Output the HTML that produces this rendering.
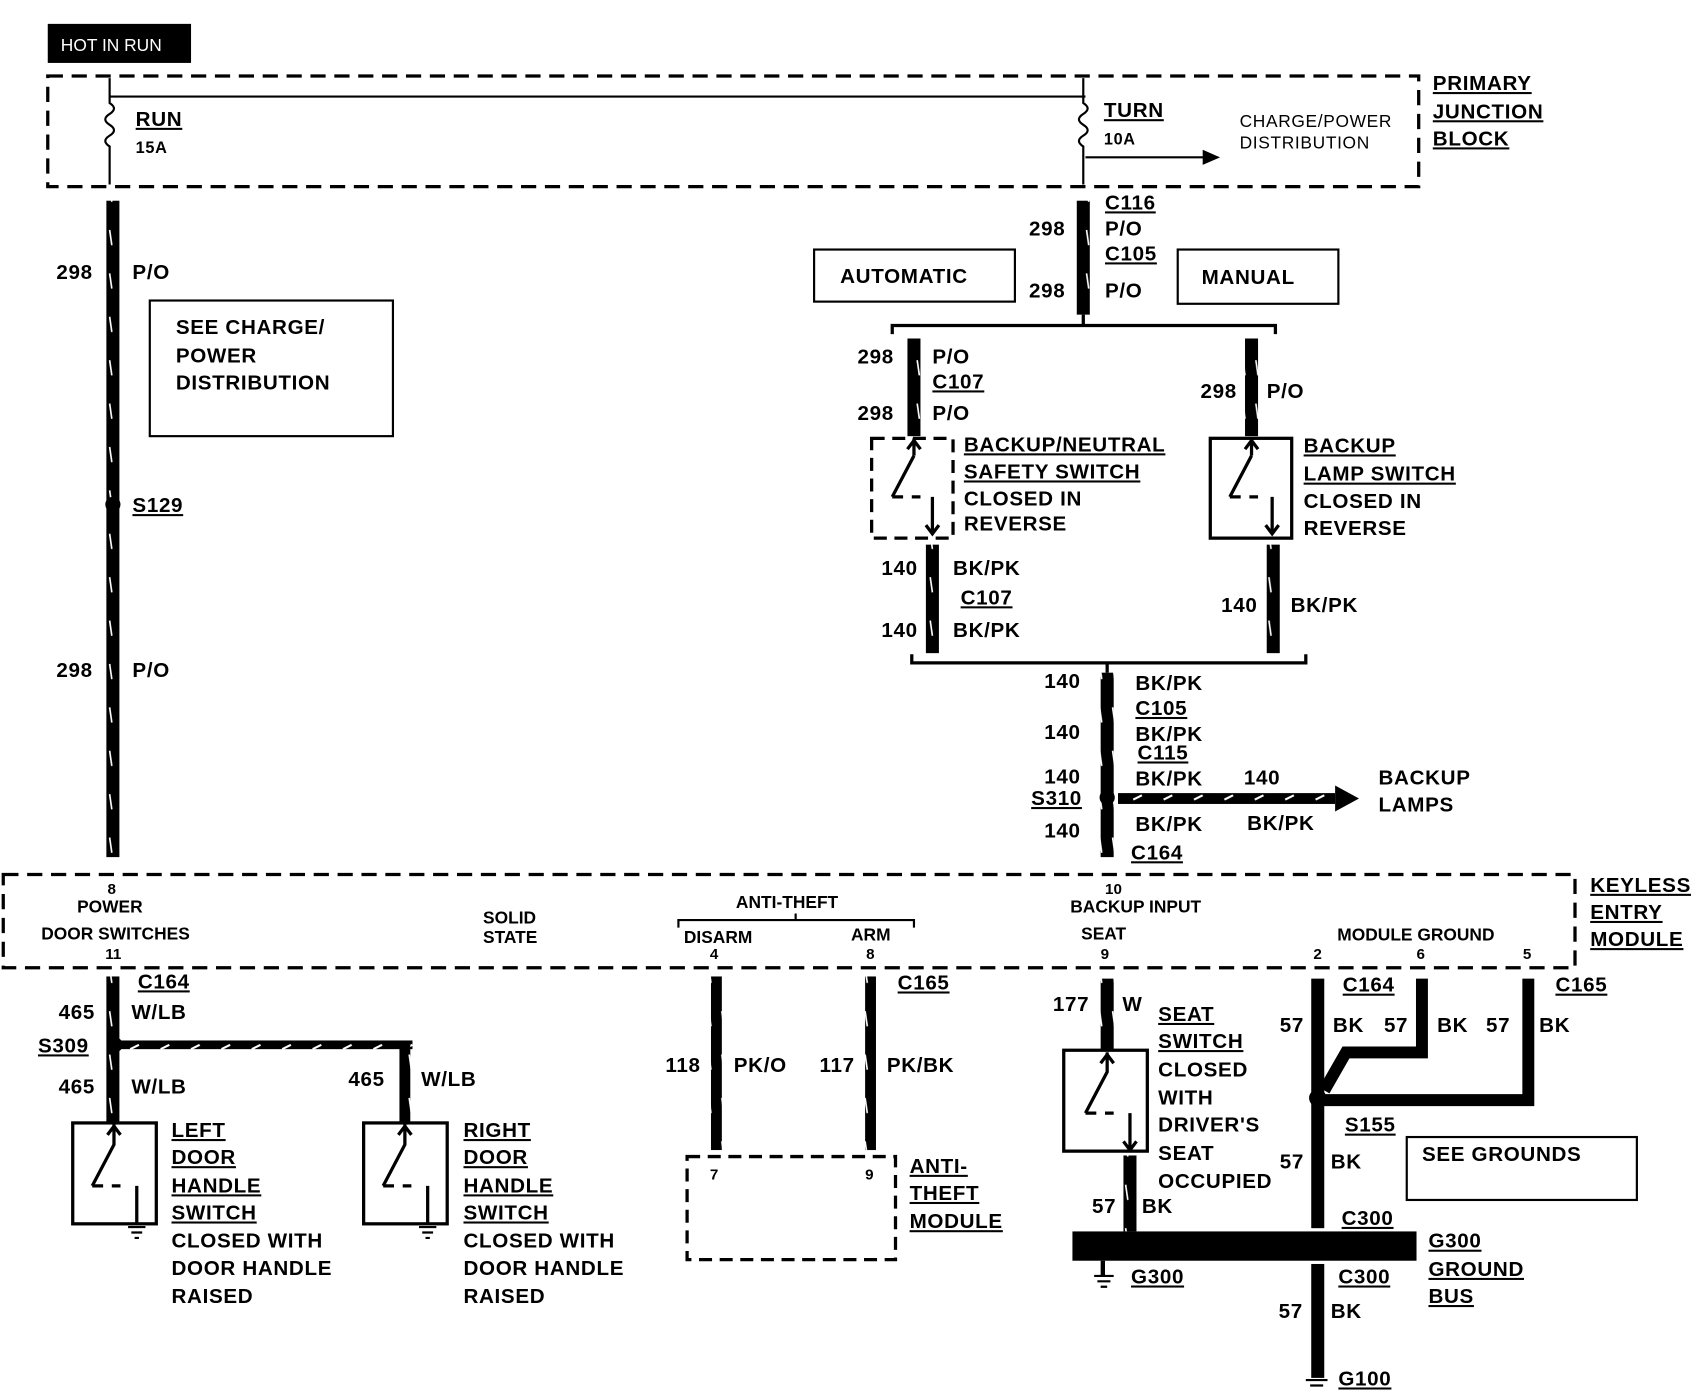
<!DOCTYPE html>
<html><head><meta charset="utf-8"><style>
html,body{margin:0;padding:0;background:#fff}
svg{display:block}
text{font-family:"Liberation Sans",sans-serif;font-weight:bold;fill:#000}
.s{font-size:19px;letter-spacing:0.6px}
.m{font-size:16px;font-weight:normal}
</style></head><body>
<svg width="1702" height="1392" viewBox="0 0 1568 1283" preserveAspectRatio="none" xmlns="http://www.w3.org/2000/svg">
<defs>
<pattern id="wp" width="12" height="40" patternUnits="userSpaceOnUse"><rect width="12" height="40" fill="#000"/><line x1="5" y1="12" x2="7" y2="26" stroke="#fff" stroke-width="1.5"/></pattern>
<pattern id="hp" width="28" height="10" patternUnits="userSpaceOnUse"><rect width="28" height="10" fill="#000"/><line x1="8" y1="7" x2="16" y2="3" stroke="#fff" stroke-width="2"/></pattern>
</defs>
<g fill="none" stroke="#000">
<rect x="44" y="70" width="1263" height="102" stroke-width="3" stroke-dasharray="14,8"/>
<line x1="101" y1="89" x2="1000" y2="89" stroke-width="2"/>
<path d="M101 72 V95 q8 5 0 10 q-8 5 0 10 q8 5 0 10 q-8 5 0 10 V170" stroke-width="2"/>
<path d="M998 72 V95 q8 5 0 10 q-8 5 0 10 q8 5 0 10 q-8 5 0 10 V170" stroke-width="2"/>
<line x1="1000" y1="145" x2="1110" y2="145" stroke-width="2"/>
<rect x="3" y="806" width="1448" height="86" stroke-width="3" stroke-dasharray="14,8"/>
<path d="M625 855 V848 H842 V855 M733 848 V842" stroke-width="2"/>
<rect x="138" y="277" width="224" height="125" stroke-width="2"/>
<rect x="750" y="230" width="185" height="48" stroke-width="2"/>
<rect x="1085" y="230" width="148" height="50" stroke-width="2"/>
<rect x="803" y="404" width="75" height="92" stroke-width="3" stroke-dasharray="12,7"/>
<rect x="1115" y="404" width="75" height="92" stroke-width="3"/>
<rect x="67" y="1035" width="77" height="93" stroke-width="3"/>
<rect x="335" y="1035" width="77" height="93" stroke-width="3"/>
<rect x="980" y="968" width="77" height="93" stroke-width="3"/>
<rect x="633" y="1066" width="192" height="95" stroke-width="3" stroke-dasharray="12,7"/>
<rect x="1296" y="1048" width="212" height="58" stroke-width="2"/>
<path d="M822 308 V300 H1175 V308 M998 300 V290" stroke-width="3"/>
<path d="M840 603 V611 H1203 V603 M1020 611 V620" stroke-width="3"/>
<g stroke-width="3">
<path d="M842 404 V420 M842 420 L822 458 M822 458 h10 m8 0 h8 M859 458 V492 M853 484 l6 8 l6 -8 M836 414 l6 -8 l6 8"/>
<path d="M1153 404 V420 M1153 420 L1133 458 M1133 458 h10 m8 0 h8 M1172 458 V492 M1166 484 l6 8 l6 -8 M1147 414 l6 -8 l6 8"/>
<path d="M105 1036 V1055 L85 1093 M85 1093 h10 m8 0 h8 M126 1093 V1128 M99 1046 l6 -8 l6 8"/>
<path d="M373 1036 V1055 L353 1093 M353 1093 h10 m8 0 h8 M394 1093 V1128 M367 1046 l6 -8 l6 8"/>
<path d="M1020 970 V988 L1000 1026 M1000 1026 h10 m8 0 h8 M1041 1026 V1060 M1035 1052 l6 8 l6 -8 M1014 980 l6 -8 l6 8"/>
</g>
<path d="M118 1131 h16 M121 1136 h10 M124 1141 h4 M386 1131 h16 M389 1136 h10 M392 1141 h4 M1008 1176 h18 M1011 1181 h12 M1014 1186 h6 M1203 1272 h20 M1207 1277 h12" stroke-width="2"/>
</g>
<rect x="44" y="22" width="132" height="36" fill="#000"/>
<text x="56" y="47" style="fill:#fff;font-weight:normal" font-size="16">HOT IN RUN</text>
<polygon points="1108,138 1124,145 1108,152" fill="#000"/>
<polygon points="1230,724 1252,736 1230,748" fill="#000"/>
<rect x="98" y="185" width="12" height="605" fill="url(#wp)"/>
<circle cx="104" cy="465" r="7" fill="#000"/>
<rect x="992" y="185" width="12" height="105" fill="url(#wp)"/>
<rect x="836" y="312" width="12" height="90" fill="url(#wp)"/>
<rect x="1147" y="312" width="12" height="90" fill="url(#wp)"/>
<rect x="853" y="502" width="12" height="100" fill="url(#wp)"/>
<rect x="1167" y="502" width="12" height="100" fill="url(#wp)"/>
<rect x="1014" y="620" width="12" height="170" fill="url(#wp)"/>
<circle cx="1020" cy="735" r="7" fill="#000"/>
<rect x="1030" y="731" width="200" height="10" fill="url(#hp)"/>
<rect x="98" y="900" width="12" height="135" fill="url(#wp)"/>
<circle cx="106" cy="963" r="7" fill="#000"/>
<rect x="110" y="959" width="270" height="8" fill="url(#hp)"/>
<rect x="368" y="963" width="10" height="72" fill="url(#wp)"/>
<rect x="655" y="900" width="10" height="160" fill="url(#wp)"/>
<rect x="797" y="900" width="10" height="160" fill="url(#wp)"/>
<rect x="1014" y="902" width="12" height="66" fill="url(#wp)"/>
<rect x="1035" y="1065" width="12" height="70" fill="url(#wp)"/>
<rect x="1208" y="902" width="12" height="230" fill="#000"/>
<path d="M1310 902 V970 H1240 L1220 1005" stroke="#000" stroke-width="11" fill="none"/>
<path d="M1408 902 V1014 H1214" stroke="#000" stroke-width="11" fill="none"/>
<circle cx="1214" cy="1012" r="8" fill="#000"/>
<rect x="988" y="1135" width="317" height="27" fill="#000"/>
<rect x="1208" y="1165" width="12" height="105" fill="#000"/>
<line x1="1016" y1="1162" x2="1016" y2="1176" stroke="#000" stroke-width="4"/>
<g class="s">
<text x="125" y="116" text-decoration="underline">RUN</text>
<text x="125" y="141" font-size="15" font-weight="normal">15A</text>
<text x="1017" y="108" text-decoration="underline">TURN</text>
<text x="1017" y="133" font-size="15" font-weight="normal">10A</text>
<text x="1142" y="117" class="m">CHARGE/POWER</text>
<text x="1142" y="137" class="m">DISTRIBUTION</text>
<text x="1320" y="83" text-decoration="underline">PRIMARY</text>
<text x="1320" y="109" text-decoration="underline">JUNCTION</text>
<text x="1320" y="134" text-decoration="underline">BLOCK</text>
<text x="52" y="257">298</text><text x="122" y="257">P/O</text>
<text x="52" y="624">298</text><text x="122" y="624">P/O</text>
<text x="122" y="472" text-decoration="underline">S129</text>
<text x="162" y="308">SEE CHARGE/</text>
<text x="162" y="334">POWER</text>
<text x="162" y="359">DISTRIBUTION</text>
<text x="1018" y="193" text-decoration="underline">C116</text>
<text x="948" y="217">298</text><text x="1018" y="217">P/O</text>
<text x="1018" y="240" text-decoration="underline">C105</text>
<text x="948" y="274">298</text><text x="1018" y="274">P/O</text>
<text x="774" y="261">AUTOMATIC</text>
<text x="1107" y="262">MANUAL</text>
<text x="790" y="335">298</text><text x="859" y="335">P/O</text>
<text x="859" y="358" text-decoration="underline">C107</text>
<text x="790" y="387">298</text><text x="859" y="387">P/O</text>
<text x="1106" y="367">298</text><text x="1167" y="367">P/O</text>
<text x="888" y="416" text-decoration="underline">BACKUP/NEUTRAL</text>
<text x="888" y="441" text-decoration="underline">SAFETY SWITCH</text>
<text x="888" y="466" font-weight="normal">CLOSED IN</text>
<text x="888" y="489" font-weight="normal">REVERSE</text>
<text x="1201" y="417" text-decoration="underline">BACKUP</text>
<text x="1201" y="443" text-decoration="underline">LAMP SWITCH</text>
<text x="1201" y="468" font-weight="normal">CLOSED IN</text>
<text x="1201" y="493" font-weight="normal">REVERSE</text>
<text x="812" y="530">140</text><text x="878" y="530">BK/PK</text>
<text x="885" y="557" text-decoration="underline">C107</text>
<text x="812" y="587">140</text><text x="878" y="587">BK/PK</text>
<text x="1125" y="564">140</text><text x="1189" y="564">BK/PK</text>
<text x="962" y="634">140</text><text x="1046" y="636">BK/PK</text>
<text x="1046" y="659" text-decoration="underline">C105</text>
<text x="962" y="681">140</text><text x="1046" y="683">BK/PK</text>
<text x="1048" y="700" text-decoration="underline">C115</text>
<text x="962" y="722">140</text><text x="1046" y="724">BK/PK</text><text x="1146" y="723">140</text>
<text x="950" y="742" text-decoration="underline">S310</text>
<text x="962" y="772">140</text><text x="1046" y="766">BK/PK</text><text x="1149" y="765">BK/PK</text>
<text x="1042" y="792" text-decoration="underline">C164</text>
<text x="1270" y="723">BACKUP</text><text x="1270" y="748">LAMPS</text>
<text x="1465" y="822" text-decoration="underline">KEYLESS</text>
<text x="1465" y="847" text-decoration="underline">ENTRY</text>
<text x="1465" y="872" text-decoration="underline">MODULE</text>
<text x="127" y="911" text-decoration="underline">C164</text>
<text x="54" y="939">465</text><text x="121" y="939">W/LB</text>
<text x="35" y="970" text-decoration="underline">S309</text>
<text x="54" y="1008">465</text><text x="121" y="1008">W/LB</text>
<text x="321" y="1001">465</text><text x="388" y="1001">W/LB</text>
<text x="158" y="1048" text-decoration="underline">LEFT</text>
<text x="158" y="1073" text-decoration="underline">DOOR</text>
<text x="158" y="1099" text-decoration="underline">HANDLE</text>
<text x="158" y="1124" text-decoration="underline">SWITCH</text>
<text x="158" y="1150" font-weight="normal">CLOSED WITH</text>
<text x="158" y="1175" font-weight="normal">DOOR HANDLE</text>
<text x="158" y="1201" font-weight="normal">RAISED</text>
<text x="427" y="1048" text-decoration="underline">RIGHT</text>
<text x="427" y="1073" text-decoration="underline">DOOR</text>
<text x="427" y="1099" text-decoration="underline">HANDLE</text>
<text x="427" y="1124" text-decoration="underline">SWITCH</text>
<text x="427" y="1150" font-weight="normal">CLOSED WITH</text>
<text x="427" y="1175" font-weight="normal">DOOR HANDLE</text>
<text x="427" y="1201" font-weight="normal">RAISED</text>
<text x="827" y="912" text-decoration="underline">C165</text>
<text x="613" y="988">118</text><text x="676" y="988">PK/O</text>
<text x="755" y="988">117</text><text x="817" y="988">PK/BK</text>
<text x="838" y="1081" text-decoration="underline">ANTI-</text>
<text x="838" y="1106" text-decoration="underline">THEFT</text>
<text x="838" y="1132" text-decoration="underline">MODULE</text>
<text x="970" y="932">177</text><text x="1034" y="932">W</text>
<text x="1067" y="941" text-decoration="underline">SEAT</text>
<text x="1067" y="966" text-decoration="underline">SWITCH</text>
<text x="1067" y="992" font-weight="normal">CLOSED</text>
<text x="1067" y="1018" font-weight="normal">WITH</text>
<text x="1067" y="1043" font-weight="normal">DRIVER'S</text>
<text x="1067" y="1069" font-weight="normal">SEAT</text>
<text x="1067" y="1095" font-weight="normal">OCCUPIED</text>
<text x="1006" y="1118">57</text><text x="1052" y="1118">BK</text>
<text x="1237" y="914" text-decoration="underline">C164</text>
<text x="1433" y="914" text-decoration="underline">C165</text>
<text x="1179" y="951">57</text><text x="1228" y="951">BK</text><text x="1275" y="951">57</text>
<text x="1324" y="951">BK</text><text x="1369" y="951">57</text><text x="1418" y="951">BK</text>
<text x="1239" y="1043" text-decoration="underline">S155</text>
<text x="1179" y="1077">57</text><text x="1226" y="1077">BK</text>
<text x="1236" y="1129" text-decoration="underline">C300</text>
<text x="1310" y="1070">SEE GROUNDS</text>
<text x="1316" y="1150" text-decoration="underline">G300</text>
<text x="1316" y="1176" text-decoration="underline">GROUND</text>
<text x="1316" y="1201" text-decoration="underline">BUS</text>
<text x="1042" y="1183" text-decoration="underline">G300</text>
<text x="1233" y="1183" text-decoration="underline">C300</text>
<text x="1178" y="1215">57</text><text x="1226" y="1215">BK</text>
<text x="1233" y="1277" text-decoration="underline">G100</text>
</g>
<g class="m">
<text x="99" y="824" font-size="14">8</text>
<text x="71" y="841">POWER</text>
<text x="38" y="866">DOOR SWITCHES</text>
<text x="97" y="884" font-size="14">11</text>
<text x="445" y="851">SOLID</text>
<text x="445" y="869">STATE</text>
<text x="678" y="837">ANTI-THEFT</text>
<text x="630" y="869">DISARM</text>
<text x="654" y="884" font-size="14">4</text>
<text x="784" y="867">ARM</text>
<text x="798" y="884" font-size="14">8</text>
<text x="1018" y="824" font-size="14">10</text>
<text x="986" y="841">BACKUP INPUT</text>
<text x="996" y="866">SEAT</text>
<text x="1014" y="884" font-size="14">9</text>
<text x="1232" y="867">MODULE GROUND</text>
<text x="1210" y="884" font-size="14">2</text>
<text x="1305" y="884" font-size="14">6</text>
<text x="1403" y="884" font-size="14">5</text>
<text x="654" y="1087" font-size="14">7</text>
<text x="797" y="1087" font-size="14">9</text>
</g>
</svg>
</body></html>
